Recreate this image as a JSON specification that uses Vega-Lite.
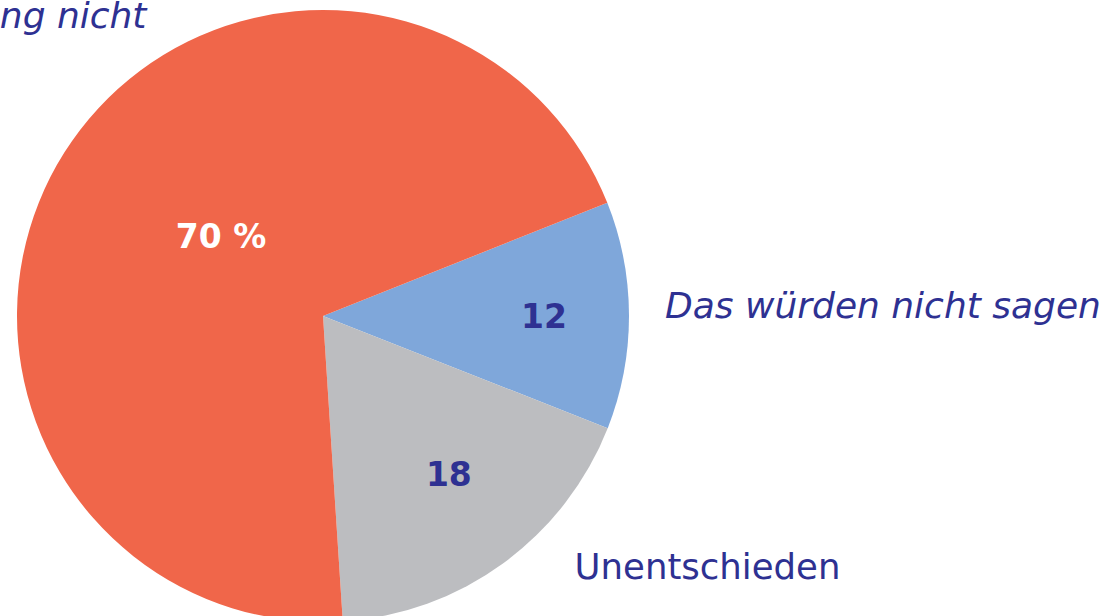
{
  "$schema": "https://vega.github.io/schema/vega-lite/v6.json",
  "width": 646,
  "height": 632,
  "padding": {"left": 0, "top": 0, "right": 472, "bottom": 0},
  "autosize": {"type": "none"},
  "background": "white",
  "view": {"stroke": null},
  "data": {
    "values": [
      {"key": "blue", "cat": "Das würden nicht sagen", "value": 12, "label": "12", "order": 1},
      {"key": "gray", "cat": "Unentschieden", "value": 18, "label": "18", "order": 2},
      {"key": "orange", "cat": "Vertraue der Regierung nicht", "value": 70, "label": "70 %", "order": 3}
    ]
  },
  "encoding": {
    "theta": {"field": "value", "type": "quantitative", "stack": true, "scale": {"range": [1.192, 7.475]}},
    "order": {"field": "order", "type": "quantitative"}
  },
  "layer": [
    {
      "mark": {"type": "arc", "outerRadius": 306, "stroke": null},
      "encoding": {
        "color": {"field": "key", "type": "nominal", "legend": null,
          "scale": {"domain": ["blue", "gray", "orange"], "range": ["#7FA7DA", "#BCBDC0", "#F0664A"]}}
      }
    },
    {
      "mark": {"type": "text", "radius": 130, "font": "DejaVu Sans", "fontWeight": "bold", "fontSize": 33, "fill": "white", "align": "center", "baseline": "alphabetic", "dx": 8, "dy": 1},
      "encoding": {"text": {"condition": {"test": "datum.key === 'orange'", "field": "label"}, "value": ""}}
    },
    {
      "mark": {"type": "text", "radius": 221, "font": "DejaVu Sans", "fontWeight": "bold", "fontSize": 33, "fill": "#2E3192", "align": "center", "baseline": "alphabetic", "dx": 0, "dy": 12},
      "encoding": {"text": {"condition": {"test": "datum.key === 'blue'", "field": "label"}, "value": ""}}
    },
    {
      "mark": {"type": "text", "radius": 200, "font": "DejaVu Sans", "fontWeight": "bold", "fontSize": 33, "fill": "#2E3192", "align": "center", "baseline": "alphabetic", "dx": 8, "dy": 8},
      "encoding": {"text": {"condition": {"test": "datum.key === 'gray'", "field": "label"}, "value": ""}}
    },
    {
      "mark": {"type": "text", "radius": 342, "font": "DejaVu Sans", "fontStyle": "italic", "fontSize": 36, "fill": "#2E3192", "align": "left", "baseline": "alphabetic", "dx": 0, "dy": 3},
      "encoding": {"text": {"condition": {"test": "datum.key === 'blue'", "field": "cat"}, "value": ""}}
    },
    {
      "mark": {"type": "text", "radius": 320, "font": "DejaVu Sans", "fontSize": 35.5, "fill": "#2E3192", "align": "left", "baseline": "alphabetic", "dx": 63, "dy": 4},
      "encoding": {"text": {"condition": {"test": "datum.key === 'gray'", "field": "cat"}, "value": ""}}
    },
    {
      "mark": {"type": "text", "radius": 320, "font": "DejaVu Sans", "fontStyle": "italic", "fontSize": 36, "fill": "#2E3192", "align": "right", "baseline": "alphabetic", "dx": 94, "dy": -117},
      "encoding": {"text": {"condition": {"test": "datum.key === 'orange'", "field": "cat"}, "value": ""}}
    }
  ]
}
